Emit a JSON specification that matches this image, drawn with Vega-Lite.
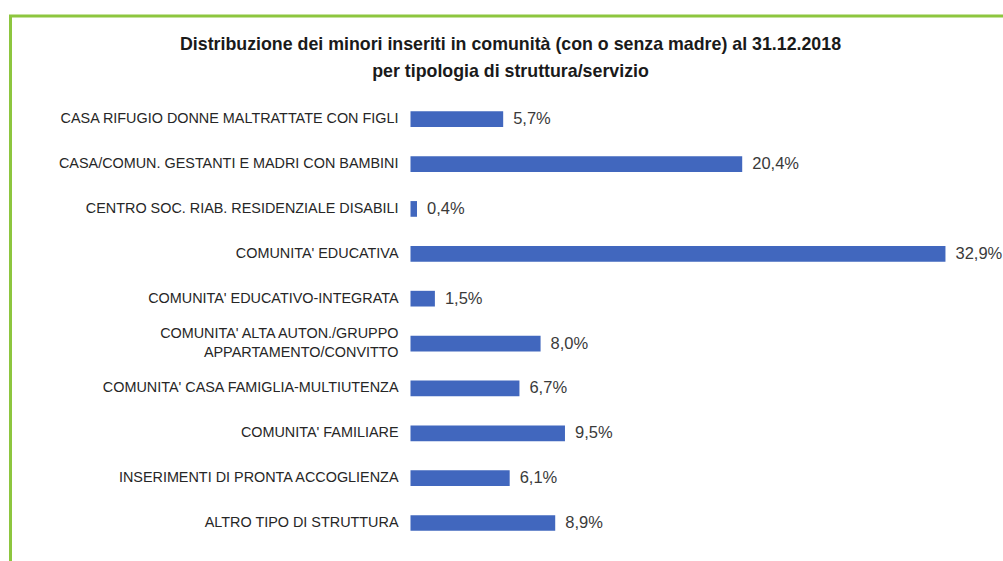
{
  "$schema": "https://vega.github.io/schema/vega-lite/v6.json",
  "width": 1000,
  "height": 609,
  "autosize": {"type": "none"},
  "padding": {"left": 10.5, "top": 16, "right": 0, "bottom": 0},
  "background": "white",
  "title": {
    "text": ["Distribuzione dei minori inseriti in comunità (con o senza madre) al 31.12.2018", "per tipologia di struttura/servizio"],
    "anchor": "middle",
    "frame": "group",
    "offset": -65,
    "font": "Liberation Sans",
    "fontSize": 17.8,
    "fontWeight": "bold",
    "color": "#1a1a1a",
    "lineHeight": 27
  },
  "data": {
    "values": [
      {"tipo": "CASA RIFUGIO DONNE MALTRATTATE CON FIGLI", "quota": 0.057},
      {"tipo": "CASA/COMUN. GESTANTI E MADRI CON BAMBINI", "quota": 0.204},
      {"tipo": "CENTRO SOC. RIAB. RESIDENZIALE DISABILI", "quota": 0.004},
      {"tipo": "COMUNITA' EDUCATIVA", "quota": 0.329},
      {"tipo": "COMUNITA' EDUCATIVO-INTEGRATA", "quota": 0.015},
      {"tipo": "COMUNITA' ALTA AUTON./GRUPPO|APPARTAMENTO/CONVITTO", "quota": 0.080},
      {"tipo": "COMUNITA' CASA FAMIGLIA-MULTIUTENZA", "quota": 0.067},
      {"tipo": "COMUNITA' FAMILIARE", "quota": 0.095},
      {"tipo": "INSERIMENTI DI PRONTA ACCOGLIENZA", "quota": 0.061},
      {"tipo": "ALTRO TIPO DI STRUTTURA", "quota": 0.089}
    ]
  },
  "encoding": {
    "y": {
      "field": "tipo",
      "type": "nominal",
      "sort": null,
      "scale": {"paddingInner": 0.65, "paddingOuter": 0.5, "range": [72.9, 537.3]},
      "axis": {
        "orient": "left",
        "offset": -399.5,
        "title": null,
        "domain": false,
        "ticks": false,
        "tickSize": 0,
        "labelPadding": 12,
        "labelLimit": 600,
        "labelFont": "Liberation Sans",
        "labelFontSize": 14.4,
        "labelColor": "#262626",
        "labelLineHeight": 19,
        "labelOffset": {"condition": {"test": "indexof(datum.value, '|') >= 0", "value": -9.5}, "value": 0},
        "labelExpr": "split(datum.label, '|')"
      }
    },
    "x": {
      "field": "quota",
      "type": "quantitative",
      "scale": {"domain": [-0.246, 0.369], "nice": false, "zero": false},
      "axis": null
    }
  },
  "layer": [
    {"mark": {"type": "bar", "color": "#4167BE"}},
    {
      "mark": {"type": "text", "align": "left", "baseline": "middle", "dx": 10, "font": "Liberation Sans", "fontSize": 16.5, "color": "#3a3a3a"},
      "encoding": {"text": {"field": "quota", "type": "quantitative", "format": ".1%"}}
    }
  ],
  "config": {
    "view": {"stroke": "#8DC63F", "strokeWidth": 3},
    "locale": {"number": {"decimal": ",", "thousands": ".", "grouping": [3], "currency": ["", " €"]}}
  }
}
